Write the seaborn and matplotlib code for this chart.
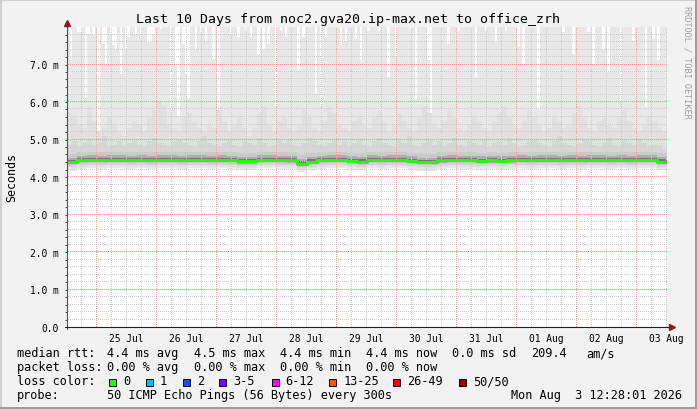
import numpy as np
import matplotlib.pyplot as plt
import seaborn as sns
from matplotlib.patches import Rectangle

sns.set_theme(style="white")
plt.rcParams["font.family"] = ["DejaVu Sans Mono", "DejaVu Sans"]

W, H = 697, 410
BACK = "#f2f2f2"

# Time axis: hourly columns starting Jul 24 12:28, 240 hours (10 days)
hours = np.arange(240)
first_midnight = 11.533  # 25 Jul 00:00
day_labels = ["25 Jul", "26 Jul", "27 Jul", "28 Jul", "29 Jul",
              "30 Jul", "31 Jul", "01 Aug", "02 Aug", "03 Aug"]

# Slowest ping per hour: above the 8 ms top almost everywhere, except these hours
gap_hour = [1, 4, 5, 7, 8, 10, 12, 14, 15, 17, 18, 19, 21, 23, 24, 27, 29, 32, 33,
            34, 37, 41, 43, 44, 46, 47, 48, 51, 53, 55, 58,
            60, 65, 68, 71, 73, 76, 78, 80, 83, 85, 87, 92, 94, 99, 101, 103,
            109, 111, 115, 117, 120, 124, 128, 131, 137, 139, 144, 145, 152,
            156, 163, 167, 171, 175, 180, 182, 188, 198, 202, 208, 210, 214,
            216, 221, 226, 231, 234, 236]
gap_ms = [7.13, 7.87, 7.87, 6.13, 7.82, 7.78, 5.24, 7.56, 6.98, 7.82, 7.51, 7.38,
          6.75, 7.42, 7.73, 7.82, 7.69, 7.60, 7.60, 7.82, 7.96, 5.82, 6.93, 5.64,
          7.56, 6.75, 6.09, 7.38, 7.87, 7.60, 7.16,
          5.38, 7.78, 7.73, 7.91, 7.73, 7.29, 7.42, 7.56, 5.87, 7.91, 7.73, 6.84,
          7.73, 6.22, 5.87, 7.73, 7.51, 7.64, 7.69, 7.11, 7.90, 7.90, 6.67, 7.24,
          7.96, 6.09, 7.11, 5.24, 7.56, 7.90, 6.67, 7.90, 7.64, 7.90, 7.47, 6.98,
          5.82, 7.87, 7.29, 7.87, 7.02, 7.38, 6.80, 6.04, 7.64, 5.87, 7.69, 7.11]

# Median rtt (ms), 4-hour blocks
median_4h = [4.40, 4.45, 4.46, 4.45, 4.46, 4.46, 4.45, 4.46, 4.45, 4.46,
             4.46, 4.45, 4.46, 4.46, 4.45, 4.46, 4.45, 4.42, 4.42, 4.46,
             4.46, 4.45, 4.44, 4.36, 4.41, 4.45, 4.46, 4.46, 4.43, 4.41,
             4.46, 4.45, 4.46, 4.46, 4.43, 4.40, 4.40, 4.44, 4.46, 4.45,
             4.45, 4.43, 4.44, 4.43, 4.44, 4.46, 4.45, 4.46, 4.46, 4.45,
             4.46, 4.45, 4.46, 4.46, 4.45, 4.46, 4.45, 4.46, 4.46, 4.41]

# Upper part of the smoke (ms), 2-hour blocks
upper_2h = [5.7, 5.6, 5.4, 5.3, 5.9, 5.5, 5.2, 5.3, 5.6, 5.4, 5.2, 5.1,
            5.3, 5.5, 5.4, 5.2, 5.6, 5.8, 6.0, 5.9, 5.4, 5.3, 5.2, 5.6,
            5.7, 5.5, 5.3, 5.2, 5.4, 5.3, 5.8, 5.5, 5.2, 5.4, 5.6, 5.3,
            5.1, 5.3, 5.7, 5.9, 5.4, 5.2, 5.5, 5.6, 5.3, 5.2, 5.4, 5.8,
            5.6, 5.3, 5.2, 5.5, 5.9, 5.7, 5.4, 5.3, 5.2, 5.5, 5.6, 5.4,
            5.3, 5.6, 5.8, 5.5, 5.2, 5.4, 5.7, 5.5, 5.3, 5.2, 5.6, 5.9,
            5.7, 5.4, 5.3, 5.5, 5.8, 5.6, 5.3, 5.2, 5.4, 5.6, 5.5, 5.3,
            5.2, 5.5, 5.7, 5.9, 5.6, 5.4, 5.3, 5.5, 5.8, 5.6, 5.4, 5.2,
            5.3, 5.6, 5.5, 5.3, 5.4, 5.7, 5.9, 5.6, 5.3, 5.2, 5.5, 5.6,
            5.4, 5.3, 5.6, 5.8, 5.5, 5.3, 5.2, 5.4, 5.6, 5.5, 5.3, 5.2]

# Denser smoke just above the median (ms), 2-hour blocks
dense_2h = [4.85, 4.95, 4.80, 4.90, 5.00, 4.85, 4.90, 5.10, 4.80, 4.85,
            4.95, 4.80, 4.90, 5.00, 4.85, 4.80, 4.95, 5.05, 4.90, 4.85,
            4.80, 4.95, 5.00, 4.90, 4.85, 4.80, 4.95, 5.10, 4.90, 4.85,
            4.80, 4.90, 5.00, 4.85, 4.80, 4.95, 4.90, 4.85, 5.05, 4.90,
            4.80, 4.85, 4.95, 4.90, 5.00, 4.85, 4.80, 4.90, 5.05, 4.95,
            4.85, 4.80, 4.90, 5.00, 4.85, 4.95, 4.80, 4.90, 5.00, 4.85,
            4.80, 4.95, 5.05, 4.90, 4.85, 4.80, 4.95, 4.90, 5.10, 4.85,
            4.80, 4.90, 5.00, 4.85, 4.95, 4.80, 4.90, 5.05, 4.85, 4.80,
            4.95, 4.90, 4.85, 5.00, 4.80, 4.90, 4.95, 4.85, 5.05, 4.90,
            4.80, 4.85, 4.95, 5.00, 4.90, 4.85, 4.80, 4.95, 5.10, 4.90,
            4.85, 4.80, 4.90, 5.00, 4.95, 4.85, 4.80, 4.90, 5.05, 4.85,
            4.80, 4.95, 4.90, 4.85, 5.00, 4.90, 4.80, 4.85, 4.80, 4.75]

loss_labels = ["0", "1", "2", "3-5", "6-12", "13-25", "26-49", "50/50"]
loss_colors = ["#26ff00", "#00b8ff", "#0059ff", "#7e00ff",
               "#ff00ff", "#ff5500", "#ff0000", "#a10000"]

# Per-hour series
top = np.full(240, 8.6)
top[gap_hour] = gap_ms
med = np.repeat(median_4h, 4)
upper = np.repeat(upper_2h, 2)
dense = np.repeat(dense_2h, 2)

PX_X = 2.5   # pixels per hour
PX_Y = 37.5  # pixels per ms


def fx(x):
    return x / W


def fy(y):
    return 1 - y / H


fig = plt.figure(figsize=(W / 100, H / 100), dpi=100, facecolor=BACK)
ax = fig.add_axes([fx(67), fy(328), 600 / W, 300 / H])
ax.set_facecolor("white")
ax.set_xlim(0, 240)
ax.set_ylim(0, 8.0)

# Smoke: nested bands, darker towards the median
bars = dict(width=1, align="edge", linewidth=0, antialiased=False)
layers = [
    (med - 0.23, top, "#e8e8e8"),
    (med - 0.17, upper, "#e0e0e0"),
    (med - 0.13, dense, "#d6d6d6"),
    (med - 0.09, med + 0.22, "#cacaca"),
    (med - 0.06, med + 0.12, "#adadad"),
    (med - 0.03, med + 0.06, "#777777"),
]
for i, (lo, hi, col) in enumerate(layers):
    ax.bar(hours, hi - lo, bottom=lo, color=col, zorder=1 + i * 0.1, **bars)

# Dotted grid (one pixel on, one off), drawn on top of the smoke
midnights = first_midnight + 24 * np.arange(10)
quarters = np.arange(first_midnight - 6, 240, 6)
minor_y = [v for v in np.arange(0.2, 8.0, 0.2) if abs(v - round(v)) > 1e-6]
minor_x = [v for v in quarters if min(abs(midnights - v)) > 1e-3]
dots_x = (np.arange(0, 600, 2) + 0.5) / PX_X
dots_y = (np.arange(0, 300, 2) + 0.5) / PX_Y


def hgrid(levels, color, z):
    gx, gy = np.meshgrid(dots_x, levels)
    ax.plot(gx.ravel(), gy.ravel(), ",", color=color, zorder=z)


def vgrid(levels, color, z):
    gx, gy = np.meshgrid(levels, dots_y)
    ax.plot(gx.ravel(), gy.ravel(), ",", color=color, zorder=z)


hgrid(minor_y, "#cccccc", 2)
vgrid(minor_x, "#cccccc", 2)
hgrid(range(1, 8), "#ffa0a0", 2.1)
vgrid(midnights, "#ffa0a0", 2.1)

# Median line
sns.lineplot(x=np.append(hours, 240), y=np.append(med, med[-1]), ax=ax,
             drawstyle="steps-post", color="#26ff00", lw=2.2, estimator=None,
             zorder=3)

# Axes, arrows
for s in ax.spines.values():
    s.set_visible(False)
ax.plot([0, 0], [-0.05, 8.08], color="#505050", lw=0.8, clip_on=False, zorder=4)
ax.plot([-1, 241.6], [0, 0], color="#202020", lw=0.8, clip_on=False, zorder=4)
ax.plot([0], [8.12], marker="^", ms=5, color="#8b1a1a", clip_on=False, zorder=5)
ax.plot([242], [0], marker=">", ms=5, color="#8b1a1a", clip_on=False, zorder=5)

ax.set_yticks(range(8))
ax.set_yticklabels(["0.0"] + ["%.1f m" % v for v in range(1, 8)])
ax.set_yticks(np.arange(0, 8.0, 0.2), minor=True)
ax.set_xticks(first_midnight + 12 + 24 * np.arange(10))
ax.set_xticklabels(day_labels)
ax.tick_params(axis="y", which="both", direction="out", length=1.6, width=0.72,
               color="#505050", pad=4.5, labelsize=6.9, labelcolor="black", left=True)
ax.tick_params(axis="x", length=0, pad=4.5, labelsize=6.9, labelcolor="black")
ax.set_xlabel("")
ax.set_ylabel("")

# Texts
fig.text(fx(347.5), fy(19), "Last 10 Days from noc2.gva20.ip-max.net to office_zrh",
         ha="center", va="center", fontsize=9.55, color="black")
fig.text(fx(12), fy(178), "Seconds", rotation=90, ha="center", va="center",
         fontsize=8.4, color="black")
fig.text(fx(687), fy(6), "RRDTOOL / TOBI OETIKER", rotation=270, ha="center",
         va="top", fontsize=6.1, color="#a0a0a0")

fs = 8.6
rows = [
    (354, [(16.7, "median rtt:"), (107.3, "4.4 ms avg"), (194, "4.5 ms max"),
           (280, "4.4 ms min"), (365.7, "4.4 ms now"), (451.7, "0.0 ms sd"),
           (530.7, "209.4"), (586.3, "am/s")]),
    (368, [(16.7, "packet loss:"), (107.3, "0.00 % avg"), (194, "0.00 % max"),
           (280, "0.00 % min"), (365.7, "0.00 % now")]),
    (382, [(16.7, "loss color:")]),
    (396, [(16.7, "probe:"), (107.3, "50 ICMP Echo Pings (56 Bytes) every 300s")]),
]
for y, items in rows:
    for x, s in items:
        fig.text(fx(x), fy(y), s, ha="left", va="center", fontsize=fs, color="black")
fig.text(fx(681.7), fy(396), "Mon Aug  3 12:28:01 2026", ha="right", va="center",
         fontsize=fs, color="black")

box_x = [109.3, 145.7, 182.7, 219.3, 271.7, 329.3, 393.3, 459.3]
for bx, lab, col in zip(box_x, loss_labels, loss_colors):
    fig.add_artist(Rectangle((fx(bx), fy(386.5)), 7 / W, 7 / H, transform=fig.transFigure,
                             facecolor=col, edgecolor="black", lw=0.7))
    fig.text(fx(bx + 14), fy(382), lab, ha="left", va="center", fontsize=fs, color="black")

# 3D frame
fig.add_artist(Rectangle((0, fy(2)), 1, 2 / H, transform=fig.transFigure, color="#cfcfcf", lw=0))
fig.add_artist(Rectangle((0, 0), 2 / W, 1, transform=fig.transFigure, color="#cfcfcf", lw=0))
fig.add_artist(Rectangle((0, 0), 1, 2 / H, transform=fig.transFigure, color="#9e9e9e", lw=0))
fig.add_artist(Rectangle((fx(695), 0), 2 / W, 1, transform=fig.transFigure, color="#9e9e9e", lw=0))

fig.savefig("out.png", dpi=100, facecolor=BACK)
